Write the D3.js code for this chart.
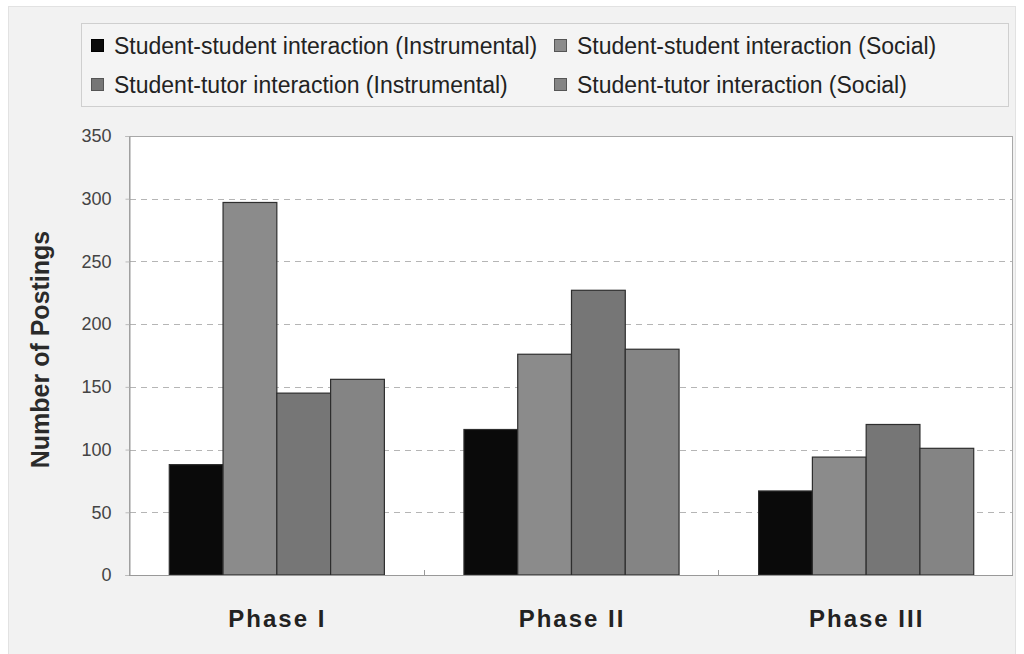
<!DOCTYPE html>
<html>
<head>
<meta charset="utf-8">
<script src="https://cdn.jsdelivr.net/npm/d3@7/dist/d3.min.js"></script>
<style>
  html, body { margin: 0; padding: 0; background: #ffffff; }
  svg { display: block; font-family: "Liberation Sans", Arial, sans-serif; }
</style>
</head>
<body>
<svg id="chart" width="1024" height="654"></svg>
<script>
// Postings per phase, by interaction type
const phases = ["Phase I", "Phase II", "Phase III"];
const seriesNames = [
  "Student-student interaction (Instrumental)",
  "Student-student interaction (Social)",
  "Student-tutor interaction (Instrumental)",
  "Student-tutor interaction (Social)"
];
const ssInstrumental = [88, 116, 67];
const ssSocial = [297, 176, 94];
const stInstrumental = [145, 227, 120];
const stSocial = [156, 180, 101];
const yTicks = [0, 50, 100, 150, 200, 250, 300, 350];
const seriesColors = ["#0a0a0a", "#8b8b8b", "#767676", "#848484"];

const seriesValues = [ssInstrumental, ssSocial, stInstrumental, stSocial];

const svg = d3.select("#chart");

// outer panel
svg.append("rect")
  .attr("x", 8.5).attr("y", 6.5).attr("width", 1007).attr("height", 650)
  .attr("fill", "#f2f2f2").attr("stroke", "#e2e2e2");

// legend box
const legend = svg.append("g");
legend.append("rect")
  .attr("x", 81.5).attr("y", 23.5).attr("width", 927).attr("height", 83)
  .attr("fill", "#f4f4f4").attr("stroke", "#cfcfcf");

const legendPos = [
  { x: 91, y: 46 }, { x: 554, y: 46 },
  { x: 91, y: 85 }, { x: 554, y: 85 }
];
seriesNames.forEach((name, i) => {
  const p = legendPos[i];
  legend.append("rect")
    .attr("x", p.x + 0.5).attr("y", p.y - 6.5).attr("width", 12).attr("height", 12)
    .attr("fill", seriesColors[i]).attr("stroke", i === 0 ? "#000" : "#555");
  legend.append("text")
    .attr("x", p.x + 23).attr("y", p.y + 8)
    .attr("font-size", 23).attr("fill", "#222")
    .text(name);
});

// plot area
const plotLeft = 129, plotRight = 1013, plotTop = 136, plotBottom = 575;

const y = d3.scaleLinear().domain([0, 350]).range([plotBottom, plotTop]);
const x0 = d3.scaleBand().domain(phases).range([plotLeft, plotRight])
  .paddingInner(0.27).paddingOuter(0.135);
const x1 = d3.scaleBand().domain(d3.range(seriesNames.length))
  .range([0, x0.bandwidth()]);

svg.append("rect")
  .attr("x", plotLeft + 0.5).attr("y", plotTop + 0.5)
  .attr("width", plotRight - plotLeft - 1).attr("height", plotBottom - plotTop)
  .attr("fill", "#ffffff").attr("stroke", "#a8a8a8");

// dashed gridlines
svg.append("g")
  .selectAll("line")
  .data(yTicks.filter(t => t > 0 && t < 350))
  .join("line")
  .attr("x1", plotLeft + 1).attr("x2", plotRight - 1)
  .attr("y1", d => Math.round(y(d)) + 0.5).attr("y2", d => Math.round(y(d)) + 0.5)
  .attr("stroke", "#b5b5b5").attr("stroke-dasharray", "6,5");

// y axis
const yAxis = svg.append("g")
  .attr("transform", `translate(${plotLeft + 0.5},0)`)
  .call(d3.axisLeft(y).tickValues(yTicks).tickSize(4).tickPadding(14));
yAxis.select(".domain").attr("stroke", "#999");
yAxis.selectAll(".tick line").attr("stroke", "#bbb");
yAxis.selectAll("text")
  .attr("font-family", "Liberation Sans, Arial, sans-serif")
  .attr("font-size", 18).attr("fill", "#444");

// bars
const groups = svg.append("g")
  .selectAll("g")
  .data(phases)
  .join("g")
  .attr("transform", d => `translate(${x0(d)},0)`);

groups.selectAll("rect")
  .data((d, pi) => seriesValues.map((vals, si) => ({ si, v: vals[pi] })))
  .join("rect")
  .attr("x", d => x1(d.si) + 0.5)
  .attr("width", x1.bandwidth())
  .attr("y", d => y(d.v))
  .attr("height", d => plotBottom - y(d.v))
  .attr("fill", d => seriesColors[d.si])
  .attr("stroke", "#2e2e2e").attr("stroke-width", 1.2);

// x axis baseline with small ticks between categories
const xAxis = svg.append("g");
xAxis.append("line")
  .attr("x1", plotLeft).attr("x2", plotRight)
  .attr("y1", plotBottom + 0.5).attr("y2", plotBottom + 0.5)
  .attr("stroke", "#999");
const boundaries = phases.slice(1).map(p => x0(p) - x0.step() * x0.paddingInner() / 2);
xAxis.selectAll("line.tk")
  .data(boundaries)
  .join("line")
  .attr("class", "tk")
  .attr("x1", d => Math.round(d) + 0.5).attr("x2", d => Math.round(d) + 0.5)
  .attr("y1", plotBottom - 5).attr("y2", plotBottom)
  .attr("stroke", "#999");

// category labels
svg.append("g")
  .selectAll("text")
  .data(phases)
  .join("text")
  .attr("x", d => x0(d) + x0.bandwidth() / 2 + 1)
  .attr("y", 627)
  .attr("text-anchor", "middle")
  .attr("font-size", 24).attr("font-weight", "bold")
  .attr("letter-spacing", 2)
  .attr("fill", "#222")
  .text(d => d);

// y axis title
svg.append("text")
  .attr("transform", `translate(49,${(plotTop + plotBottom) / 2 - 6}) rotate(-90)`)
  .attr("text-anchor", "middle")
  .attr("font-size", 25).attr("font-weight", "bold")
  .attr("fill", "#2a2a2a")
  .text("Number of Postings");
</script>
</body>
</html>
